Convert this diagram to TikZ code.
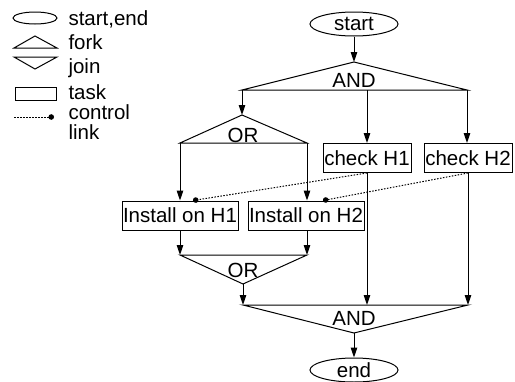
\documentclass[tikz,border=0pt]{standalone}
\usepackage{fontspec}
\setmainfont{Liberation Sans}
\usetikzlibrary{arrows.meta,shapes.geometric}

\begin{document}
\begin{tikzpicture}[x=1pt,y=-1pt,line width=1pt,
  every node/.style={font=\fontsize{20.5}{22}\selectfont},
  term/.style={draw,ellipse,minimum width=88pt,minimum height=24pt,inner sep=0pt},
  task/.style={draw,minimum height=29pt,inner xsep=1pt,inner ysep=0pt},
  lbl/.style={anchor=base,inner sep=0pt},
  flow/.style={-{Triangle[length=10pt,width=6.5pt]}},
  ctrl/.style={dash pattern=on 1.5pt off 1.5pt,-{Circle[length=5.5pt]}}]
\useasboundingbox (0,0) rectangle (515,381);

\node[draw,ellipse,minimum width=44pt,minimum height=12pt,inner sep=0pt] (lgterm) at (35,18) {};
\draw (14,48) -- (35,36) -- (57,48) -- cycle;
\draw (14,57) -- (57,57) -- (35,69) -- cycle;
\draw (15,87) rectangle (56,100);
\coordinate (lga) at (14,117);
\coordinate (lgb) at (54,117);
\draw[ctrl] (lga) -- (lgb);
\node[lbl,anchor=base west] (lgtxta) at (68,25) {start,end};
\node[lbl,anchor=base west] (lgtxtb) at (68,49) {fork};
\node[lbl,anchor=base west] (lgtxtc) at (68,73) {join};
\node[lbl,anchor=base west] (lgtxtd) at (68,99) {task};
\node[inner sep=0pt,anchor=north west,align=left,
  font=\fontsize{20.5}{20.5}\selectfont] (lgtxte) at (68,104) {control\\link};

\node[term] (start) at (354,24) {start};
\coordinate (forkT) at (354,62);
\coordinate (forkL) at (242,90);
\coordinate (forkM) at (367,90);
\coordinate (forkR) at (467,90);
\draw (forkL) -- (forkT) -- (forkR) -- cycle;
\node[lbl] (forkand) at (354,87) {AND};
\draw[flow] (start) -- (forkT);

\coordinate (orT) at (242,115);
\coordinate (orL) at (180,143);
\coordinate (orR) at (307,143);
\draw (orL) -- (orT) -- (orR) -- cycle;
\node[lbl] (forkor) at (243,142.5) {OR};
\draw[flow] (forkL) -- (orT);

\node[task,minimum width=88pt] (chk1) at (367,158) {check H1};
\node[task,minimum width=88pt] (chk2) at (468,158) {check H2};
\node[task,minimum width=116pt] (inst1) at (180,215.5) {Install on H1};
\node[task,minimum width=116pt] (inst2) at (306,215.5) {Install on H2};
\draw[flow] (forkM) -- (chk1);
\draw[flow] (forkR) -- (chk2.north -| forkR);
\draw[flow] (orL) -- (inst1);
\draw[flow] (orR) -- (inst2.north -| orR);

\coordinate (dot1) at ([xshift=13pt]inst1.north);
\coordinate (dot2) at ([xshift=17pt]inst2.north);
\draw[ctrl] (chk1.south) -- (dot1);
\draw[ctrl] (chk2.south) -- (dot2);

\coordinate (joinL) at (180,255);
\coordinate (joinR) at (307,255);
\coordinate (joinB) at (243,284);
\draw (joinL) -- (joinR) -- (joinB) -- cycle;
\node[lbl] (joinor) at (243,277) {OR};
\draw[flow] (inst1) -- (joinL);
\draw[flow] (inst2.south -| joinR) -- (joinR);

\coordinate (andL) at (243,305);
\coordinate (andM) at (367,305);
\coordinate (andR) at (468,305);
\coordinate (andB) at (354,333);
\draw (andL) -- (andR) -- (andB) -- cycle;
\node[lbl] (joinand) at (354,325) {AND};
\draw[flow] (joinB) -- (andL);
\draw[flow] (chk1) -- (andM);
\draw[flow] (chk2) -- (andR);

\node[term] (finish) at (354,370) {end};
\draw[flow] (andB) -- (finish);
\end{tikzpicture}
\end{document}
